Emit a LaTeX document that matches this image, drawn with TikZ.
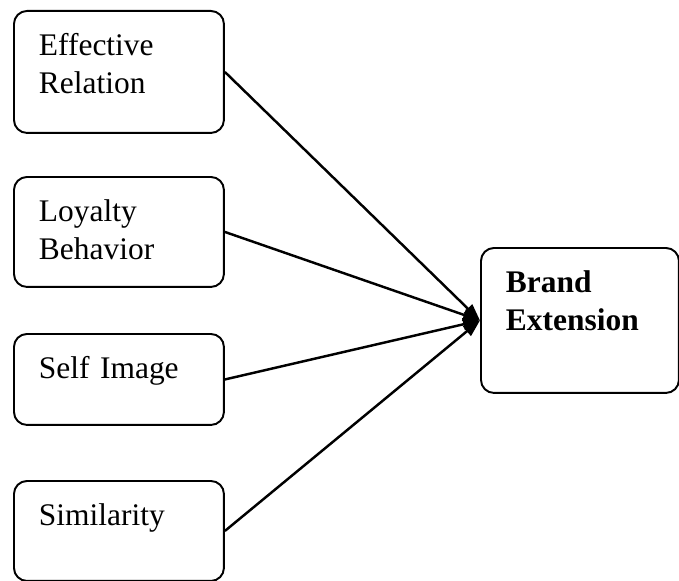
\documentclass[tikz,border=0pt]{standalone}
\usepackage{fontspec}
\setmainfont{Liberation Serif}
\usetikzlibrary{arrows.meta}

\begin{document}
\begin{tikzpicture}[x=0.02cm, y=-0.02cm,
        factor/.style={draw, line width=1.1pt, rounded corners=0.26cm, anchor=north west,
            align=left, text width=3.2cm, inner xsep=0.5cm, inner ysep=0pt,
            text height=0.9cm, font=\fontsize{17.9}{21.6}\selectfont},
        link/.style={line width=1.4pt, -{Triangle[length=0.34cm, width=0.24cm]}}]
        % Fix the page size
        \useasboundingbox (0,0) rectangle (679,581);

        % Draw the boxes
        \node[factor, text depth=1.54cm] (eff) at (13,10) {Effective\\Relation};
        \node[factor, text depth=1.3cm] (loy) at (13,176) {Loyalty\\Behavior};
        \node[factor, text depth=0.92cm] (self) at (13,333) {Self Image};
        \node[factor, text depth=1.1cm] (sim) at (13,480) {Similarity};
        \node[factor, text width=2.96cm, text depth=2.0cm,
            font=\fontsize{17.9}{21.6}\selectfont\bfseries] (brand) at (480,247) {Brand\\Extension};

        % Draw the arrows
        \draw[link] (eff.east) -- (brand.west);
        \draw[link] (loy.east) -- (brand.west);
        \draw[link] (self.east) -- (brand.west);
        \draw[link] (sim.east) -- (brand.west);

\end{tikzpicture}
\end{document}
